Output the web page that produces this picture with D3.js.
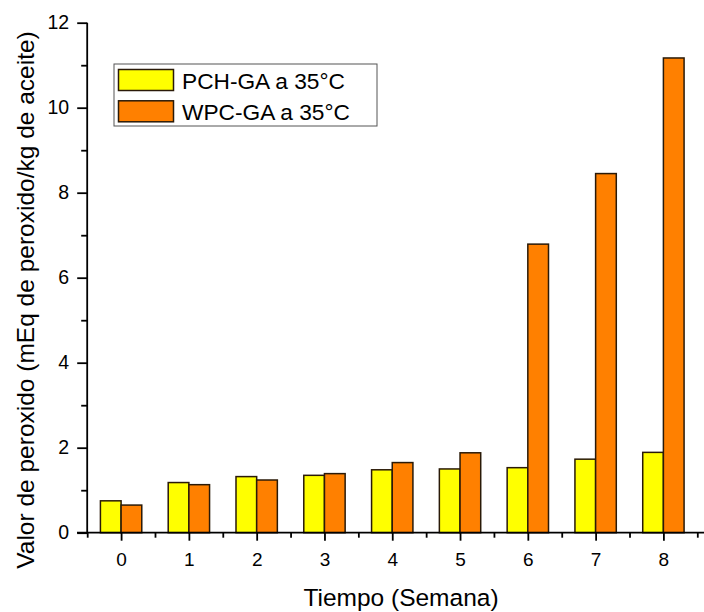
<!DOCTYPE html>
<html><head><meta charset="utf-8">
<script src="https://cdn.jsdelivr.net/npm/d3@7"></script>
<style>body{margin:0;background:#fff}svg{display:block}text{font-family:Arial,"Liberation Sans",sans-serif;fill:#000}</style>
</head><body>
<script>
const weeks = [0,1,2,3,4,5,6,7,8];
const seriesNames = ["PCH-GA a 35°C","WPC-GA a 35°C"];
const pchValues = [0.75,1.18,1.32,1.35,1.48,1.50,1.53,1.73,1.89];
const wpcValues = [0.65,1.13,1.24,1.39,1.65,1.88,6.79,8.45,11.17];
const yTicks = [0,2,4,6,8,10,12];
const colors = ["#FFFF00","#FF8000"];

const W=704,H=612;
const svg=d3.select("body").append("svg").attr("width",W).attr("height",H);
const x=d3.scaleLinear().domain([-0.5,8.5]).range([87.2,697.3]);
const y=d3.scaleLinear().domain([0,12]).range([532.7,22.7]);
const unit = x(1)-x(0);
const bw = unit*0.305;

const series=[pchValues,wpcValues];
series.forEach((vals,si)=>{
  svg.append("g").selectAll("rect").data(weeks).join("rect")
    .attr("x",d=>x(d)+(si-1)*bw)
    .attr("y",(d,i)=>y(vals[i]))
    .attr("width",bw)
    .attr("height",(d,i)=>y(0)-y(vals[i]))
    .attr("fill",colors[si]).attr("stroke","#2a1a08").attr("stroke-width",1.5);
});

const FONT="Arial, Liberation Sans, sans-serif";
// y axis
const ya=svg.append("g").attr("transform",`translate(${x(-0.5)},0)`);
ya.call(d3.axisLeft(y).tickValues(yTicks).tickSize(10).tickPadding(8).tickFormat(d3.format("d")));
ya.append("g").call(d3.axisLeft(y).tickValues([1,3,5,7,9,11]).tickSize(6).tickFormat(""));
ya.selectAll(".domain").remove();
ya.append("line").attr("x1",0).attr("x2",0).attr("y1",y(0)).attr("y2",y(12)).attr("stroke","#000").attr("stroke-width",1.8);
ya.selectAll(".tick line").attr("stroke","#000").attr("stroke-width",1.8);
ya.selectAll("text").style("font-size","19.5px").style("font-family",FONT);

// x axis
const xa=svg.append("g").attr("transform",`translate(0,${y(0)})`);
xa.call(d3.axisBottom(x).tickValues(weeks).tickSize(8).tickPadding(12).tickFormat(d3.format("d")));
xa.append("g").call(d3.axisBottom(x).tickValues(weeks.map(d=>d-0.5).concat([8.5])).tickSize(5).tickFormat(""));
xa.selectAll(".domain").remove();
xa.append("line").attr("x1",77).attr("x2",704).attr("y1",0).attr("y2",0).attr("stroke","#000").attr("stroke-width",1.8);
xa.selectAll(".tick line").attr("stroke","#000").attr("stroke-width",1.8);
xa.selectAll("text").style("font-size","19px").style("font-family",FONT);

// axis titles
svg.append("text").attr("x",401).attr("y",606).attr("text-anchor","middle").style("font-size","24.5px").text("Tiempo (Semana)");
svg.append("text").attr("transform","translate(34,300) rotate(-90)").attr("text-anchor","middle").style("font-size","24.5px").text("Valor de peroxido (mEq de peroxido/kg de aceite)");

// legend
const lg=svg.append("g");
lg.append("rect").attr("x",114).attr("y",64).attr("width",263).attr("height",62).attr("fill","#fff").attr("stroke","#555").attr("stroke-width",1);
seriesNames.forEach((n,i)=>{
  lg.append("rect").attr("x",118.5).attr("y",69.5+i*31.3).attr("width",55).attr("height",21).attr("fill",colors[i]).attr("stroke","#2a1a08").attr("stroke-width",1.5);
  lg.append("text").attr("x",182).attr("y",88.5+i*31.3).style("font-size","22.7px").text(n);
});
</script>
</body></html>
